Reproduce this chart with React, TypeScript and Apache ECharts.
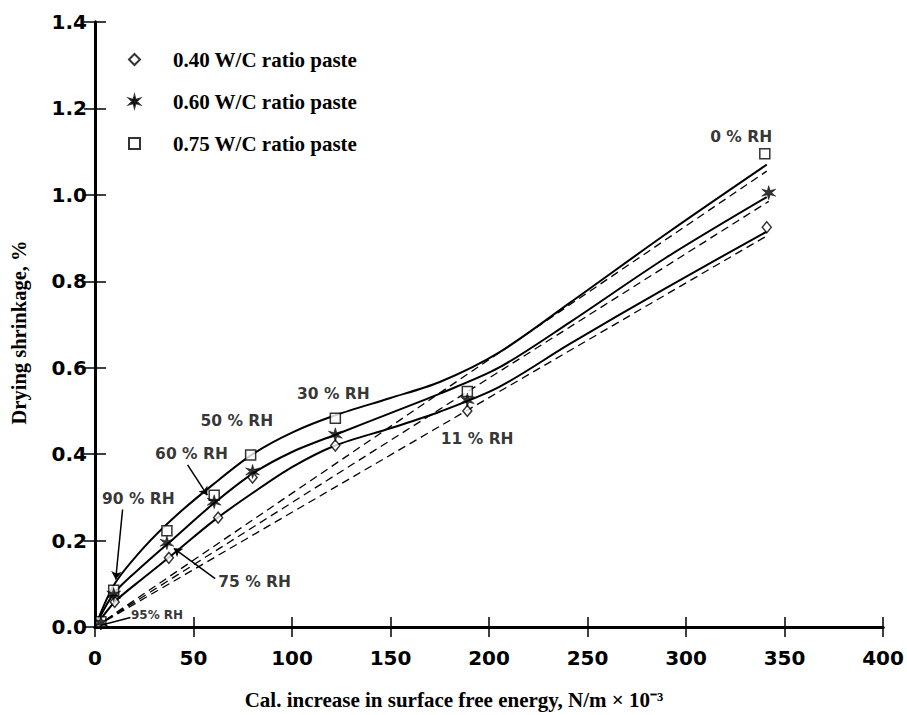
import React, { useEffect, useRef } from "react";
import * as echarts from "echarts";

// ---- data ----
const seriesNames = ["0.40 W/C ratio paste", "0.60 W/C ratio paste", "0.75 W/C ratio paste"];

// measured points (RH: 95, 90, 75, 60, 50, 30, 11, 0 %)
const wc40X = [3, 10, 37.5, 62.5, 80, 122, 189, 341];
const wc40Y = [0.008, 0.058, 0.16, 0.253, 0.346, 0.42, 0.5, 0.925];
const wc60X = [3, 9.5, 36.5, 60.5, 80, 122, 189, 342];
const wc60Y = [0.01, 0.075, 0.195, 0.29, 0.36, 0.445, 0.525, 1.005];
const wc75X = [3, 9.5, 36.5, 60.5, 79, 122, 189, 340];
const wc75Y = [0.012, 0.085, 0.223, 0.305, 0.398, 0.483, 0.545, 1.095];

// fitted solid curves
const curveX = [0, 10, 25, 40, 60, 80, 100, 122, 150, 175, 205, 241, 290, 341];
const curve40Y = [0, 0.058, 0.115, 0.17, 0.245, 0.31, 0.37, 0.42, 0.46, 0.498, 0.555, 0.655, 0.785, 0.915];
const curve60Y = [0, 0.08, 0.145, 0.205, 0.285, 0.355, 0.405, 0.445, 0.495, 0.54, 0.6, 0.705, 0.855, 0.995];
const curve75Y = [0, 0.1, 0.185, 0.253, 0.33, 0.4, 0.45, 0.49, 0.53, 0.567, 0.635, 0.75, 0.91, 1.07];

// dashed straight lines from origin
const dash40X = [0, 341];
const dash40Y = [0, 0.905];
const dash60X = [0, 342];
const dash60Y = [0, 0.985];
const dash75X = [0, 341];
const dash75Y = [0, 1.055];

// RH annotations
const annoText = ["90 % RH", "60 % RH", "50 % RH", "30 % RH", "11 % RH", "0 % RH", "75 % RH", "95% RH"];
const annoX = [22, 49, 72, 121, 194, 328, 81, 31.5];
const annoY = [0.296, 0.4, 0.476, 0.54, 0.435, 1.135, 0.104, 0.028];

// annotation arrows
const arrowFromX = [14, 47, 61];
const arrowFromY = [0.272, 0.375, 0.112];
const arrowToX = [10.5, 57, 40];
const arrowToY = [0.11, 0.305, 0.182];
const leaderFromX = [18];
const leaderFromY = [0.022];
const leaderToX = [3];
const leaderToY = [0.004];

// axis ticks
const xMin = 0, xMax = 400, xStep = 50;
const yMin = 0, yMax = 1.4, yStep = 0.2;

const starPath =
  "path://M0,-5L0.9,-1.5L4.33,-2.5L1.8,0L4.33,2.5L0.9,1.5L0,5L-0.9,1.5L-4.33,2.5L-1.8,0L-4.33,-2.5L-0.9,-1.5Z";

const zip = (xs: number[], ys: number[]) => xs.map((x, i) => [x, ys[i]]);

export default function App() {
  const ref = useRef<HTMLDivElement>(null);
  useEffect(() => {
    if (!ref.current) return;
    const chart = echarts.init(ref.current, null, { renderer: "svg" });
    const black = "#000";
    const tickLabel = {
      color: black,
      fontFamily: "DejaVu Sans",
      fontWeight: "bold" as const,
      fontSize: 20,
    };
    const serifBold = {
      color: black,
      fontFamily: "Liberation Serif",
      fontWeight: "bold" as const,
    };
    const solid = (name: string, xs: number[], ys: number[]) => ({
      type: "line",
      name: name + " curve",
      data: zip(xs, ys),
      smooth: 0.3,
      showSymbol: false,
      symbol: "none",
      lineStyle: { color: black, width: 2 },
      silent: true,
      z: 2,
    });
    const dashed = (name: string, xs: number[], ys: number[]) => ({
      type: "line",
      name: name + " linear",
      data: zip(xs, ys),
      showSymbol: false,
      symbol: "none",
      lineStyle: { color: black, width: 1.3, type: [8, 5] },
      silent: true,
      z: 2,
    });
    const option: any = {
      animation: false,
      backgroundColor: "#fff",
      grid: { left: 93, right: 24, top: 22, bottom: 87, containLabel: false },
      legend: {
        data: seriesNames,
        orient: "vertical",
        left: 123,
        top: 43,
        itemWidth: 11,
        itemHeight: 11,
        itemGap: 19,
        textStyle: { ...serifBold, fontSize: 21, lineHeight: 23, padding: [0, 0, 0, 28] },
      },
      xAxis: [
        {
          type: "value",
          min: xMin,
          max: xMax,
          interval: xStep,
          axisLine: { show: true, lineStyle: { color: black, width: 3 } },
          axisTick: { show: true, inside: true, length: 10, lineStyle: { color: black, width: 1.5 } },
          splitLine: { show: false },
          axisLabel: { ...tickLabel, margin: 21 },
          name: "Cal. increase in surface free energy, N/m × 10⁻³",
          nameLocation: "middle",
          nameGap: 62,
          nameTextStyle: { ...serifBold, fontSize: 21, padding: [0, 70, 0, 0] },
        },
        {
          type: "value",
          position: "top",
          min: xMin,
          max: xMax,
          interval: xStep,
          axisLine: { show: true, lineStyle: { color: black, width: 3 } },
          axisTick: { show: true, inside: true, length: 10, lineStyle: { color: black, width: 1.5 } },
          splitLine: { show: false },
          axisLabel: { show: false },
        },
      ],
      yAxis: [
        {
          type: "value",
          min: yMin,
          max: yMax,
          interval: yStep,
          axisLine: { show: true, lineStyle: { color: black, width: 3 } },
          axisTick: { show: true, inside: true, length: 11, lineStyle: { color: black, width: 1.5 } },
          splitLine: { show: false },
          axisLabel: { ...tickLabel, margin: 8, formatter: (v: number) => v.toFixed(1) },
          name: "Drying shrinkage, %",
          nameLocation: "middle",
          nameGap: 66,
          nameTextStyle: { ...serifBold, fontSize: 20.5, padding: [0, 16, 0, 0] },
        },
        {
          type: "value",
          position: "right",
          min: yMin,
          max: yMax,
          interval: yStep,
          axisLine: { show: true, lineStyle: { color: black, width: 3 } },
          axisTick: { show: true, inside: true, length: 11, lineStyle: { color: black, width: 1.5 } },
          splitLine: { show: false },
          axisLabel: { show: false },
        },
      ],
      series: [
        solid(seriesNames[0], curveX, curve40Y),
        solid(seriesNames[1], curveX, curve60Y),
        solid(seriesNames[2], curveX, curve75Y),
        dashed(seriesNames[0], dash40X, dash40Y),
        dashed(seriesNames[1], dash60X, dash60Y),
        dashed(seriesNames[2], dash75X, dash75Y),
        {
          type: "scatter",
          name: seriesNames[0],
          data: zip(wc40X, wc40Y),
          symbol: "diamond",
          symbolSize: [9, 11],
          itemStyle: { color: "#fff", borderColor: black, borderWidth: 1.5 },
          z: 5,
        },
        {
          type: "scatter",
          name: seriesNames[1],
          data: zip(wc60X, wc60Y),
          symbol: starPath,
          symbolSize: 14,
          itemStyle: { color: black, borderColor: black, borderWidth: 0.6 },
          z: 6,
        },
        {
          type: "scatter",
          name: seriesNames[2],
          data: zip(wc75X, wc75Y),
          symbol: "rect",
          symbolSize: 10,
          itemStyle: { color: "#fff", borderColor: black, borderWidth: 1.5 },
          z: 5,
        },
        {
          type: "scatter",
          name: "annotations",
          data: annoText.map((t, i) => ({
            value: [annoX[i], annoY[i]],
            label: {
              show: true,
              formatter: t,
              position: "inside",
              color: black,
              fontFamily: "DejaVu Sans",
              fontWeight: "bold",
              fontSize: t.startsWith("95") ? 12 : 15.5,
            },
          })),
          symbolSize: 0,
          silent: true,
          z: 7,
        },
        {
          type: "lines",
          coordinateSystem: "cartesian2d",
          data: arrowFromX.map((x, i) => ({
            coords: [
              [x, arrowFromY[i]],
              [arrowToX[i], arrowToY[i]],
            ],
          })),
          symbol: ["none", "arrow"],
          symbolSize: 8,
          lineStyle: { color: black, width: 1.5, opacity: 1, curveness: 0 },
          silent: true,
          z: 7,
        },
        {
          type: "lines",
          coordinateSystem: "cartesian2d",
          data: leaderFromX.map((x, i) => ({
            coords: [
              [x, leaderFromY[i]],
              [leaderToX[i], leaderToY[i]],
            ],
          })),
          symbol: ["none", "none"],
          lineStyle: { color: black, width: 1.5, opacity: 1 },
          silent: true,
          z: 7,
        },
      ],
    };
    chart.setOption(option);
    return () => chart.dispose();
  }, []);
  return (
    <div
      ref={ref}
      style={{ position: "absolute", left: 0, top: 0, width: 907, height: 715 }}
    />
  );
}
